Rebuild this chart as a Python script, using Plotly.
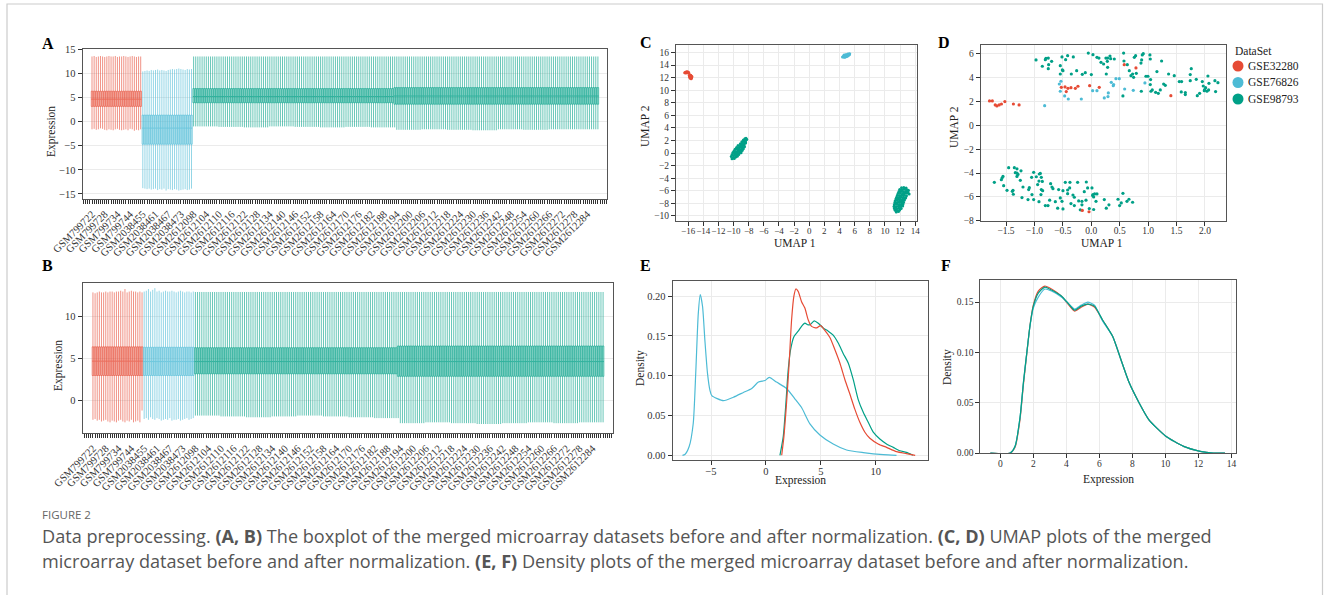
import plotly.graph_objects as go

W, H = 1328, 595
RED, BLUE, GREEN = '#E64B35', '#4DBBD5', '#00A087'
SERIF = 'Liberation Serif'

# ---------------- data ----------------
datasets = ['GSE32280', 'GSE76826', 'GSE98793']
n_red, n_blue, n_green = 24, 24, 192

tick_pos = [0, 6, 12, 18, 24, 30, 36, 42, 48, 54, 60, 66, 72, 78, 84, 90, 96, 102, 108, 114,
            120, 126, 132, 138, 144, 150, 156, 162, 168, 174, 180, 186, 192, 198, 204, 210, 216, 222, 228, 234]
tick_labels = ['GSM799722', 'GSM799728', 'GSM799734', 'GSM799744',
               'GSM2038455', 'GSM2038461', 'GSM2038467', 'GSM2038473',
               'GSM2612098', 'GSM2612104', 'GSM2612110', 'GSM2612116', 'GSM2612122', 'GSM2612128',
               'GSM2612134', 'GSM2612140', 'GSM2612146', 'GSM2612152', 'GSM2612158', 'GSM2612164',
               'GSM2612170', 'GSM2612176', 'GSM2612182', 'GSM2612188', 'GSM2612194', 'GSM2612200',
               'GSM2612206', 'GSM2612212', 'GSM2612218', 'GSM2612224', 'GSM2612230', 'GSM2612236',
               'GSM2612242', 'GSM2612248', 'GSM2612254', 'GSM2612260', 'GSM2612266', 'GSM2612272',
               'GSM2612278', 'GSM2612284']

# Panel A (before normalization) box statistics
A_red = dict(q1=3.15, med=4.65, q3=6.3)
A_red_lo = [-1.6, -1.5, -1.7, -1.6, -1.4, -1.5, -1.7, -1.8, -1.6, -1.7, -1.8, -1.6,
            -1.5, -1.7, -1.8, -1.7, -1.6, -1.8, -1.5, -1.6, -1.9, -1.7, -1.8, -1.6]
A_red_hi = [13.5, 13.6, 13.4, 13.5, 13.6, 13.5, 13.4, 13.5, 13.6, 13.5, 13.5, 13.6,
            13.4, 13.5, 13.5, 13.6, 13.5, 13.4, 13.5, 13.6, 13.5, 13.4, 13.5, 13.5]
A_blue = dict(q1=-4.7, med=-1.35, q3=1.35)
A_blue_lo = [-13.8, -13.9, -14.0, -13.9, -14.1, -14.0, -13.9, -14.2, -14.0, -14.1, -13.9, -14.3,
             -14.0, -14.1, -14.2, -14.0, -14.1, -14.3, -14.2, -14.1, -14.0, -14.2, -14.1, -13.9]
A_blue_hi = [10.4, 10.5, 10.6, 10.5, 10.7, 10.6, 10.7, 10.8, 10.6, 10.7, 10.6, 10.5,
             10.7, 10.8, 10.9, 10.8, 10.9, 11.0, 10.9, 10.8, 10.7, 10.9, 10.8, 10.9]
# green: two blocks of samples (first 95, last 97)
A_green_blocks = [dict(n=95, q1=3.9, med=5.2, q3=6.85, hi=13.5), dict(n=97, q1=3.6, med=5.3, q3=7.05, hi=13.5)]
A_green_lo_seg = [-1.0, -1.1, -1.2, -1.0, -1.1, -1.2, -1.1, -1.2, -1.7, -1.6, -1.7, -1.8, -1.6, -1.7, -1.6, -1.6]

# Panel B (after normalization)
B_red = dict(q1=2.95, med=4.65, q3=6.35)
B_red_lo = [-2.3, -2.2, -2.4, -2.3, -2.5, -2.4, -2.3, -2.5, -2.6, -2.4, -2.5, -2.6,
            -2.4, -2.3, -2.5, -2.6, -2.4, -2.5, -2.3, -2.6, -2.5, -2.4, -2.6, -1.2]
B_red_hi = [12.8, 12.7, 12.8, 12.9, 12.8, 12.8, 12.9, 12.8, 12.9, 12.9, 12.8, 12.9,
            12.9, 13.0, 12.9, 13.2, 12.8, 12.9, 13.0, 12.9, 12.9, 12.8, 12.9, 12.8]
B_blue = dict(q1=2.95, med=4.6, q3=6.3)
B_blue_lo = [-2.2, -2.1, -2.3, -2.0, -2.2, -2.3, -2.1, -2.2, -2.4, -2.3, -2.2, -2.3,
             -2.1, -2.4, -2.3, -2.3, -2.2, -2.4, -2.3, -2.2, -2.1, -2.3, -2.2, -2.1]
B_blue_hi = [12.9, 13.0, 13.2, 12.9, 13.1, 13.3, 12.9, 13.0, 12.8, 12.9, 13.0, 12.9,
             12.9, 13.0, 12.9, 12.8, 12.9, 13.0, 12.9, 12.8, 12.9, 12.9, 12.8, 12.9]
B_green_blocks = [dict(n=95, q1=3.15, med=4.6, q3=6.25, hi=12.85), dict(n=97, q1=2.85, med=4.6, q3=6.45, hi=12.85)]
B_green_lo_seg = [-1.8, -1.9, -2.0, -1.9, -1.8, -1.9, -2.0, -2.1, -2.7, -2.6, -2.7, -2.8, -2.7, -2.6, -2.7, -2.6]

# Panel C: UMAP before normalization
C_red_x = [-16.45, -16.35, -16.25, -16.15, -16.05, -15.95, -16.3, -16.1, -15.9, -15.85, -15.8, -15.7,
           -15.65, -15.6, -15.75, -15.55, -15.7, -15.8, -15.6, -15.5, -15.65, -15.75, -15.55, -15.6]
C_red_y = [12.8, 12.85, 12.9, 12.95, 12.9, 12.85, 12.75, 12.8, 12.7, 12.35, 12.2, 12.3,
           12.1, 12.25, 12.0, 12.05, 11.9, 12.15, 11.85, 12.2, 12.4, 12.3, 11.95, 12.1]
C_blue_x = [4.4, 4.5, 4.55, 4.6, 4.65, 4.7, 4.75, 4.8, 4.85, 4.9, 4.95, 5.0,
            5.05, 5.1, 5.15, 5.2, 5.25, 5.3, 5.35, 4.6, 4.8, 5.0, 5.1, 4.7]
C_blue_y = [15.3, 15.35, 15.45, 15.3, 15.5, 15.4, 15.55, 15.45, 15.35, 15.6, 15.5, 15.65,
            15.45, 15.6, 15.7, 15.55, 15.75, 15.65, 15.8, 15.6, 15.65, 15.4, 15.75, 15.25]
C_green_x = [-10.2, -9.9, -10.3, -10.0, -9.7, -9.5, -10.2, -9.9, -9.6, -9.3, -10.1, -9.8, -9.5, -9.2, -9.0,
             -9.95, -9.7, -9.4, -9.1, -8.85, -9.8, -9.5, -9.25, -8.95, -8.7, -9.6, -9.3, -9.05, -8.8, -8.55,
             -9.4, -9.1, -8.85, -8.6, -9.1, -8.85, -8.6, -8.4, -8.9, -8.65, -8.4, -8.7, -8.45, -8.25, -8.5, -8.35,
             -9.75, -9.35, -8.95, -9.55, -9.15,
             12.2, 12.5, 12.8, 11.95, 12.25, 12.55, 12.85, 13.1, 11.85, 12.15, 12.45, 12.75, 13.05,
             11.75, 12.05, 12.35, 12.65, 12.95, 13.2, 11.65, 11.95, 12.25, 12.55, 12.85,
             11.55, 11.85, 12.15, 12.45, 12.75, 11.45, 11.75, 12.05, 12.35, 12.65,
             11.35, 11.65, 11.95, 12.25, 12.55, 11.3, 11.6, 11.9, 12.2, 12.45,
             11.25, 11.55, 11.85, 12.15, 12.4, 11.2, 11.5, 11.8, 12.1, 12.35,
             11.25, 11.55, 11.85, 12.15, 11.35, 11.65, 11.95, 11.5, 11.8]
C_green_y = [-0.9, -0.85, -0.55, -0.65, -0.6, -0.5, -0.25, -0.35, -0.3, -0.2, 0.05, -0.05, 0.0, 0.1, 0.05,
             0.3, 0.25, 0.35, 0.3, 0.4, 0.6, 0.65, 0.55, 0.6, 0.7, 0.9, 0.85, 0.95, 0.9, 1.0,
             1.2, 1.15, 1.25, 1.3, 1.5, 1.45, 1.55, 1.6, 1.8, 1.85, 1.75, 2.1, 2.05, 2.15, 2.3, 2.35,
             0.15, 0.75, 1.05, -0.1, 0.45,
             -5.5, -5.45, -5.55, -5.8, -5.85, -5.75, -5.8, -5.9, -6.1, -6.05, -6.15, -6.1, -6.2,
             -6.4, -6.35, -6.45, -6.4, -6.35, -6.5, -6.7, -6.75, -6.65, -6.7, -6.8,
             -7.0, -7.05, -6.95, -7.0, -7.1, -7.3, -7.25, -7.35, -7.3, -7.2,
             -7.6, -7.55, -7.65, -7.6, -7.5, -7.9, -7.95, -7.85, -7.9, -7.8,
             -8.2, -8.15, -8.25, -8.2, -8.1, -8.5, -8.55, -8.45, -8.5, -8.4,
             -8.8, -8.85, -8.75, -8.8, -9.1, -9.15, -9.05, -9.35, -9.3]

# Panel D: UMAP after normalization
D_red_x = [-1.79, -1.74, -1.69, -1.66, -1.62, -1.58, -1.52, -1.37, -1.27,
           -0.527, -0.462, -0.41, -0.357, -0.28, -0.234, -0.44, -0.029, 0.14, 0.58, 0.786, 1.40, -0.158, -0.04]
D_red_y = [2.06, 2.06, 1.72, 1.64, 1.72, 1.80, 2.0, 1.80, 1.72,
           3.20, 3.23, 3.12, 3.17, 3.12, 3.29, 2.84, 3.34, 3.2, 5.1, 4.83, 2.50, -7.14, -7.25]
D_blue_x = [-0.533, -0.562, -0.545, -0.468, -0.404, -0.175, 0.024, 0.10, 0.229, 0.294,
            0.30, 0.352, 0.387, 0.393, 0.434, 0.493, 0.587, 0.739, 0.944, -0.82]
D_blue_y = [3.71, 3.48, 2.87, 2.48, 2.22, 2.22, 2.92, 2.92, 2.31, 2.42,
            2.73, 3.62, 3.34, 3.43, 3.93, 3.93, 3.06, 2.95, 3.57, 1.66]
D_green_x = [-0.972, -0.861, -0.808, -0.797, -0.756, -0.75, -0.756, -0.697, -0.545, -0.515, -0.509, -0.498,
             -0.451, -0.416, -0.545, -0.316, -0.351, -0.257, -0.158, -0.105, 0.001, -0.052, 0.03, 0.10,
             0.135, 0.171, 0.217, 0.258, 0.288, 0.282, 0.329, 0.341, 0.288, 0.264, 0.405, 0.569, 0.575,
             0.634, 0.669, 0.698, 0.727, 0.757, 0.78, 0.745, 0.792, 0.897, 0.915, 0.886, 0.874, 1.032,
             1.038, 0.962, 0.997, 1.044, 1.038, 1.155, 1.237, 1.073, 1.05, 1.132, 1.179, 1.214, 1.273,
             1.302, 1.36, 1.46, 1.548, 1.589, 1.583, 1.654, 1.654, 1.741, 1.759, 1.741, 1.847, 1.865,
             1.906, 1.953, 1.970, 2.011, 1.994, 2.052, 2.070, 2.064, 2.035, 1.988, 2.175, 2.228, 2.187,
             0.88, 0.557,
             -1.705, -1.582, -1.570, -1.553, -1.453, -1.353, -1.307, -1.336, -1.307, -1.289, -1.307, -1.236,
             -1.248, -1.541, -1.482, -1.389, -1.371, -1.377, -1.219, -1.201, -1.101, -1.090, -1.113, -1.043,
             -1.013, -1.013, -1.049, -0.967, -0.914, -0.896, -0.920, -0.879, -0.861, -0.943, -0.879, -0.855,
             -0.885, -0.920, -0.808, -0.761, -0.732, -0.715, -0.691, -0.674, -0.632, -0.574, -0.545, -0.515,
             -0.498, -0.457, -0.375, -0.416, -0.416, -0.380, -0.357, -0.322, -0.298, -0.298, -0.240, -0.222,
             -0.164, -0.164, -0.193, -0.123, -0.087, -0.093, -0.064, 0.012, 0.024, 0.030, 0.042, 0.059,
             0.100, 0.083, 0.042, -0.035, 0.229, 0.264, 0.311, 0.470, 0.499, 0.528, 0.557, 0.628, 0.663,
             0.727, -0.498, -0.591]
D_green_y = [5.50, 4.97, 5.52, 5.64, 5.66, 5.10, 4.77, 5.38, 5.02, 5.75, 4.66, 4.60,
             5.52, 5.86, 4.32, 5.75, 4.32, 4.60, 4.29, 4.43, 4.27, 6.08, 5.94, 5.72,
             5.66, 5.30, 5.16, 5.66, 5.66, 5.38, 5.83, 5.61, 4.88, 4.32, 5.58, 6.08, 5.41,
             5.10, 4.60, 4.18, 4.32, 5.72, 5.86, 4.04, 4.38, 5.92, 6.03, 5.50, 5.24, 5.92,
             5.58, 4.13, 4.13, 3.85, 3.43, 4.52, 5.41, 2.98, 2.87, 2.78, 2.70, 2.98, 3.48,
             3.37, 4.32, 4.18, 3.68, 3.68, 2.81, 2.76, 2.59, 4.27, 4.77, 3.76, 3.87, 2.50,
             2.70, 3.68, 3.31, 3.17, 3.01, 4.15, 3.54, 2.98, 2.87, 2.92, 3.76, 3.59, 2.84,
             2.87, 2.48,
             -4.78, -4.56, -4.42, -4.28, -3.55, -3.55, -3.64, -3.97, -4.0, -4.11, -4.28, -3.81,
             -4.61, -5.06, -5.45, -5.53, -5.78, -5.45, -6.06, -5.17, -5.39, -5.23, -6.23, -5.81,
             -6.23, -3.94, -4.36, -4.31, -4.08, -4.03, -4.67, -4.36, -4.70, -4.97, -5.39, -5.48,
             -5.81, -6.40, -6.73, -6.73, -6.28, -4.89, -5.17, -5.31, -6.40, -5.39, -6.09, -6.37,
             -5.48, -4.78, -4.78, -5.42, -5.73, -5.25, -6.56, -5.84, -6.03, -6.73, -4.78, -6.34,
             -6.37, -6.67, -7.09, -5.56, -4.75, -6.28, -5.25, -5.25, -5.89, -5.81, -6.01, -5.75,
             -5.75, -6.37, -7.06, -6.98, -6.23, -6.95, -6.67, -6.20, -6.73, -6.51, -5.70, -6.37, -6.20,
             -6.45, -7.01, -6.95]

# Panel E: density before normalization
E_red_x = [1.44, 1.64, 1.88, 2.12, 2.34, 2.55, 2.73, 2.94, 3.25, 3.55, 3.86, 4.16, 4.62, 4.98, 5.37, 5.83,
           6.28, 6.74, 7.2, 7.65, 8.1, 8.56, 9.02, 9.47, 10.23, 10.99, 11.9, 12.8, 13.6]
E_red_y = [0.0, 0.0235, 0.0654, 0.116, 0.17, 0.20, 0.209, 0.206, 0.193, 0.185, 0.17, 0.162, 0.16, 0.163,
           0.157, 0.148, 0.133, 0.116, 0.095, 0.077, 0.058, 0.0415, 0.029, 0.0214, 0.0143, 0.01, 0.0046,
           0.0021, 0.0]
E_blue_x = [-7.6, -7.38, -6.99, -6.62, -6.38, -6.16, -5.98, -5.77, -5.56, -5.32, -5.1, -4.93, -3.87, -2.96,
            -2.05, -1.29, -0.68, -0.08, 0.30, 0.97, 1.88, 2.64, 3.25, 4.01, 4.92, 6.13, 7.35, 8.87, 10.7, 11.9]
E_blue_y = [0.0, 0.001, 0.011, 0.04, 0.107, 0.178, 0.202, 0.187, 0.145, 0.103, 0.082, 0.075, 0.0686, 0.073,
            0.079, 0.084, 0.092, 0.094, 0.098, 0.092, 0.084, 0.071, 0.06, 0.0395, 0.0256, 0.0142, 0.0067,
            0.0034, 0.0008, 0.0]
E_green_x = [1.28, 1.58, 1.82, 2.03, 2.24, 2.55, 2.94, 3.25, 3.55, 3.8, 4.01, 4.4, 4.77, 5.22, 5.68, 6.13,
             6.59, 7.04, 7.5, 7.96, 8.41, 8.87, 9.32, 9.78, 10.38, 10.99, 11.6, 12.2, 12.8, 13.4]
E_green_y = [0.0, 0.0235, 0.065, 0.107, 0.132, 0.149, 0.156, 0.162, 0.166, 0.164, 0.164, 0.169, 0.166, 0.16,
             0.156, 0.151, 0.141, 0.128, 0.116, 0.095, 0.07, 0.054, 0.0415, 0.029, 0.0205, 0.0143, 0.01,
             0.0058, 0.0037, 0.0]

# Panel F: density after normalization
F_x = [-0.6, 0.6, 0.9, 1.2, 1.4, 1.6, 1.8, 2.0, 2.3, 2.7, 3.1, 3.7, 4.1, 4.5, 4.9, 5.3, 5.7, 6.2, 6.8,
       7.3, 7.8, 8.4, 9.0, 10.0, 11.1, 12.1, 12.9, 13.6]
F_red_y = [0.0, 0.0, 0.006, 0.034, 0.068, 0.098, 0.127, 0.147, 0.161, 0.166, 0.163, 0.156, 0.148, 0.141,
           0.145, 0.148, 0.145, 0.132, 0.116, 0.093, 0.070, 0.050, 0.033, 0.017, 0.0066, 0.0017, 0.0, 0.0]
F_blue_y = [0.0, 0.0, 0.007, 0.036, 0.070, 0.099, 0.126, 0.144, 0.155, 0.163, 0.161, 0.155, 0.149, 0.143,
            0.147, 0.150, 0.147, 0.131, 0.116, 0.093, 0.070, 0.050, 0.033, 0.017, 0.0066, 0.0017, 0.0, 0.0]
F_green_y = [0.0, 0.0, 0.007, 0.036, 0.070, 0.099, 0.127, 0.146, 0.159, 0.165, 0.162, 0.156, 0.149, 0.142,
             0.146, 0.148, 0.146, 0.132, 0.116, 0.093, 0.070, 0.050, 0.033, 0.017, 0.0066, 0.0017, 0.0, 0.0]

# ---------------- helpers ----------------
def rgba(hexc, a):
    h = hexc.lstrip('#')
    return 'rgba(%d,%d,%d,%s)' % (int(h[0:2], 16), int(h[2:4], 16), int(h[4:6], 16), a)


def xd(a, b):
    return [a / W, b / W]


def yd(top, bottom):
    return [1 - bottom / H, 1 - top / H]


def expand_blocks(blocks, key):
    out = []
    for b in blocks:
        out += [b[key]] * b['n']
    return out


def expand_seg(seg, n_each):
    out = []
    for v in seg:
        out += [v] * n_each
    return out


fig = go.Figure()


def add_boxes(ax, red, red_lo, red_hi, blue, blue_lo, blue_hi, gblocks, g_lo_seg):
    groups = [
        (RED, list(range(0, n_red)), [red['q1']] * n_red, [red['med']] * n_red, [red['q3']] * n_red, red_lo, red_hi),
        (BLUE, list(range(n_red, n_red + n_blue)), [blue['q1']] * n_blue, [blue['med']] * n_blue,
         [blue['q3']] * n_blue, blue_lo, blue_hi),
        (GREEN, list(range(n_red + n_blue, n_red + n_blue + n_green)), expand_blocks(gblocks, 'q1'),
         expand_blocks(gblocks, 'med'), expand_blocks(gblocks, 'q3'), expand_seg(g_lo_seg, 12),
         expand_blocks(gblocks, 'hi')),
    ]
    for col, pos, q1, med, q3, lo, hi in groups:
        fig.add_trace(go.Box(
            x=pos, q1=q1, median=med, q3=q3, lowerfence=lo, upperfence=hi,
            boxpoints=False, width=0.72, whiskerwidth=0,
            line=dict(color=rgba(col, 0.6), width=1), fillcolor=rgba(col, 0.35),
            xaxis='x' + ax, yaxis='y' + ax, showlegend=False, hoverinfo='skip'))


add_boxes('', A_red, A_red_lo, A_red_hi, A_blue, A_blue_lo, A_blue_hi, A_green_blocks, A_green_lo_seg)
add_boxes('2', B_red, B_red_lo, B_red_hi, B_blue, B_blue_lo, B_blue_hi, B_green_blocks, B_green_lo_seg)

for xs, ys, col in [(C_red_x, C_red_y, RED), (C_blue_x, C_blue_y, BLUE), (C_green_x, C_green_y, GREEN)]:
    fig.add_trace(go.Scatter(x=xs, y=ys, mode='markers', marker=dict(color=col, size=3),
                             xaxis='x3', yaxis='y3', showlegend=False, hoverinfo='skip'))
for xs, ys, col in [(D_green_x, D_green_y, GREEN), (D_blue_x, D_blue_y, BLUE), (D_red_x, D_red_y, RED)]:
    fig.add_trace(go.Scatter(x=xs, y=ys, mode='markers', marker=dict(color=col, size=3.2),
                             xaxis='x4', yaxis='y4', showlegend=False, hoverinfo='skip'))
for xs, ys, col in [(E_blue_x, E_blue_y, BLUE), (E_green_x, E_green_y, GREEN), (E_red_x, E_red_y, RED)]:
    fig.add_trace(go.Scatter(x=xs, y=ys, mode='lines', line=dict(color=col, width=1.2, shape='spline', smoothing=0.6),
                             xaxis='x5', yaxis='y5', showlegend=False, hoverinfo='skip'))
for ys, col in [(F_red_y, RED), (F_blue_y, BLUE), (F_green_y, GREEN)]:
    fig.add_trace(go.Scatter(x=F_x, y=ys, mode='lines', line=dict(color=col, width=1.2, shape='spline', smoothing=0.6),
                             xaxis='x6', yaxis='y6', showlegend=False, hoverinfo='skip'))

tickfont = dict(family=SERIF, size=10.5, color='#333333')
small_tick = dict(family=SERIF, size=9.5, color='#333333')
tiny_tick = dict(family=SERIF, size=9, color='#333333')
common = dict(showline=True, mirror=True, linecolor='#555555', linewidth=1, ticks='outside', ticklen=4,
              tickcolor='#333333', tickfont=tickfont, gridcolor='#EBEBEB', gridwidth=1, zeroline=False,
              automargin=False, tickangle=0)
xnum = dict(common, ticklabelstandoff=-3)

layout = dict(width=W, height=H, margin=dict(l=0, r=0, t=0, b=0, autoexpand=False), paper_bgcolor='white',
              plot_bgcolor='white', showlegend=False, autosize=False)

box_x = dict(common, showgrid=False, tickmode='array', tickvals=tick_pos, ticktext=tick_labels, tickangle=-45,
             tickfont=dict(family=SERIF, size=10.5, color='#333333'),
             minor=dict(ticks='outside', ticklen=4, tickcolor='#333333', dtick=1, tick0=0, showgrid=False))
layout['xaxis'] = dict(box_x, domain=xd(82.7, 607), range=[-4.4, 243.3], anchor='y')
layout['yaxis'] = dict(common, domain=yd(49, 199), range=[-16.05, 15.05], dtick=5, tick0=0, anchor='x')
layout['xaxis2'] = dict(box_x, domain=xd(82.7, 612.7), range=[-4.8, 243.5], anchor='y2')
layout['yaxis2'] = dict(common, domain=yd(282.7, 433.3), range=[-3.9, 13.95], dtick=5, tick0=0, anchor='x2')
layout['xaxis3'] = dict(xnum, domain=xd(676, 916.7), range=[-17.6, 14.2], dtick=2, tick0=0, anchor='y3',
                        tickfont=tiny_tick)
layout['yaxis3'] = dict(common, domain=yd(45, 220.7), range=[-10.75, 17.2], dtick=2, tick0=0, anchor='x3',
                        tickfont=small_tick)
layout['xaxis4'] = dict(xnum, domain=xd(980.7, 1226), range=[-1.945, 2.37], dtick=0.5, tick0=0,
                        tickformat='.1f', anchor='y4', tickfont=small_tick)
layout['yaxis4'] = dict(common, domain=yd(44.7, 220.7), range=[-8.0, 6.78], dtick=2, tick0=0, anchor='x4',
                        tickfont=small_tick)
layout['xaxis5'] = dict(xnum, domain=xd(672.7, 927.7), range=[-8.49, 14.74], dtick=5, tick0=0, anchor='y5')
layout['yaxis5'] = dict(common, domain=yd(281, 460), range=[-0.0059, 0.219], dtick=0.05, tick0=0,
                        tickformat='.2f', anchor='x5')
layout['xaxis6'] = dict(xnum, domain=xd(980.3, 1236), range=[-1.21, 14.27], dtick=2, tick0=0, anchor='y6',
                        tickfont=small_tick)
layout['yaxis6'] = dict(common, domain=yd(280, 453.3), range=[-0.0003, 0.172], dtick=0.05, tick0=0,
                        tickformat='.2f', anchor='x6', tickfont=small_tick)
fig.update_layout(**layout)

ann = []


def txt(x, y, s, size, xanchor='center', angle=0, family=SERIF, color='#222222'):
    ann.append(dict(x=x / W, y=1 - y / H, xref='paper', yref='paper', text=s, showarrow=False,
                    xanchor=xanchor, yanchor='middle', textangle=angle,
                    font=dict(family=family, size=size, color=color)))


# panel letters
for L, x, y in [('A', 48, 44), ('B', 47, 265), ('C', 646, 43), ('D', 944, 43), ('E', 645, 265), ('F', 946, 265)]:
    txt(x, y, '<b>%s</b>' % L, 16, color='black')

# axis titles
txt(51, 132, 'Expression', 11.5, angle=-90)
txt(58, 366, 'Expression', 11.5, angle=-90)
txt(645, 126, 'UMAP 2', 11.5, angle=-90)
txt(795, 243, 'UMAP 1', 11.5)
txt(954, 127, 'UMAP 2', 11.5, angle=-90)
txt(1102, 243, 'UMAP 1', 11.5)
txt(640, 368, 'Density', 11.5, angle=-90)
txt(800, 480, 'Expression', 11.5)
txt(947, 367, 'Density', 11.5, angle=-90)
txt(1108, 479, 'Expression', 11.5)

# legend (manual)
txt(1233, 51, 'DataSet', 11.5, xanchor='left')
shapes = []
for i, (name, col) in enumerate(zip(datasets, [RED, BLUE, GREEN])):
    cy = 66 + i * 16.5
    shapes.append(dict(type='circle', xref='paper', yref='paper', x0=(1238 - 5.5) / W, x1=(1238 + 5.5) / W,
                       y0=1 - (cy + 5.5) / H, y1=1 - (cy - 5.5) / H, fillcolor=col, line=dict(width=0)))
    txt(1246, cy, name, 11.5, xanchor='left')

# caption
CAP = 'Open Sans'
txt(40, 514, 'FIGURE 2', 11.5, xanchor='left', family=CAP, color='#666666')
txt(40, 536, 'Data preprocessing. <b>(A, B)</b> The boxplot of the merged microarray datasets before and after '
             'normalization. <b>(C, D)</b> UMAP plots of the merged', 18.1, xanchor='left', family=CAP, color='#555555')
txt(40, 561, 'microarray dataset before and after normalization. <b>(E, F)</b> Density plots of the merged '
             'microarray dataset before and after normalization.', 18.1, xanchor='left', family=CAP, color='#555555')

# outer figure frame
shapes.append(dict(type='rect', xref='paper', yref='paper', x0=7 / W, x1=1322.5 / W, y0=-0.01, y1=1 - 4 / H,
                   line=dict(color='#CCCCCC', width=1.2), fillcolor='rgba(0,0,0,0)', layer='below'))

fig.update_layout(annotations=ann, shapes=shapes)
fig.write_html('out.html', config={'displayModeBar': False, 'staticPlot': True},
               post_script="document.body.style.margin='0px';document.body.style.overflow='hidden';")
